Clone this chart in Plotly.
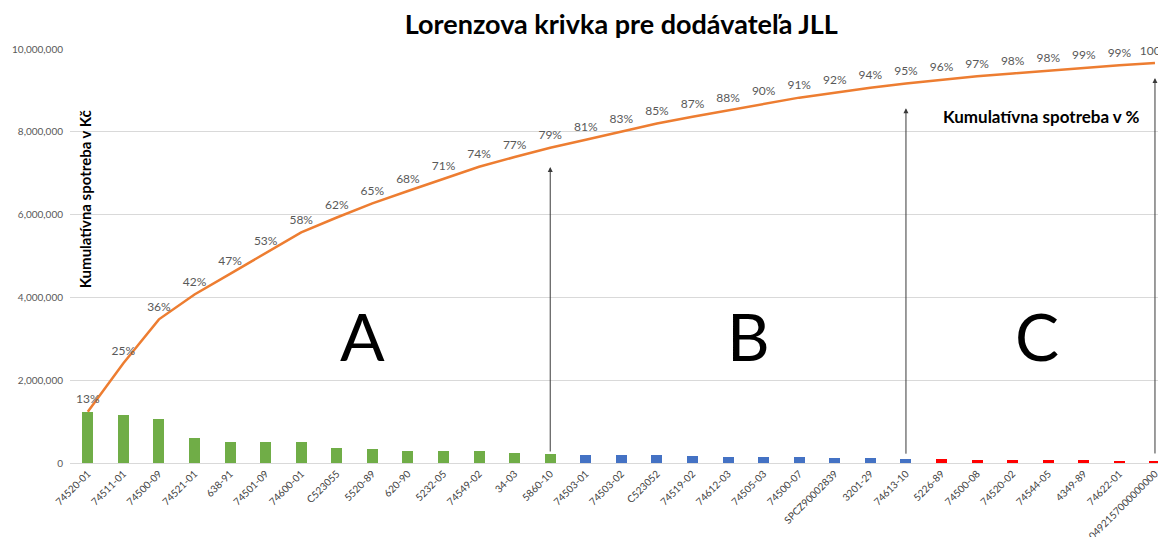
import plotly.graph_objects as go
import numpy as np

categories = ["74520-01", "74511-01", "74500-09", "74521-01", "638-91", "74501-09", "74600-01",
              "C523055", "5520-89", "620-90", "5232-05", "74549-02", "34-03", "5860-10",
              "74503-01", "74503-02", "C523052", "74519-02", "74612-03", "74505-03", "74500-07",
              "SPCZ90002839", "3201-29", "74613-10",
              "5226-89", "74500-08", "74520-02", "74544-05", "4349-89", "74622-01", "0492157000000000"]

values = [1240000, 1170000, 1060000, 600000, 500000, 500000, 500000, 360000, 340000, 300000,
          300000, 285000, 235000, 225000,
          195000, 195000, 195000, 165000, 155000, 155000, 150000, 120000, 120000, 100000,
          95000, 80000, 70000, 70000, 70000, 55000, 55000]

groups = ["A"] * 14 + ["B"] * 10 + ["C"] * 7

pct_labels = ["13%", "25%", "36%", "42%", "47%", "53%", "58%", "62%", "65%", "68%", "71%",
              "74%", "77%", "79%", "81%", "83%", "85%", "87%", "88%", "90%", "91%", "92%",
              "94%", "95%", "96%", "97%", "98%", "98%", "99%", "99%", "100%"]

group_colors = {"A": "#70AD47", "B": "#4472C4", "C": "#FF0000"}
cumulative = np.cumsum(values)

FONT = "Lato"

fig = go.Figure()
fig.add_trace(go.Bar(
    x=categories, y=values, width=0.31,
    marker=dict(color=[group_colors[g] for g in groups], line=dict(width=0)),
    showlegend=False,
))
fig.add_trace(go.Scatter(
    x=categories, y=cumulative, mode="lines+markers+text",
    line=dict(color="#ED7D31", width=2.5),
    marker=dict(size=7, color="rgba(0,0,0,0)"),
    text=pct_labels, textposition="top center",
    textfont=dict(family=FONT, size=12, color="#595959"),
    cliponaxis=False, showlegend=False, hoverinfo="skip",
))

# arrows marking the ABC boundaries (x given as category index)
arrows = [("5860-10", 7150000, 286), ("74613-10", 8570000, 347), ("0492157000000000", 9300000, 377)]
for cat, yv, length in arrows:
    fig.add_annotation(x=categories.index(cat), y=yv, xref="x", yref="y", ax=0, ay=length,
                       showarrow=True, arrowhead=2, arrowsize=1, arrowwidth=1,
                       arrowcolor="#3a3a3a", text="")

for letter, xp in [("A", 0.267), ("B", 0.619), ("C", 0.882)]:
    fig.add_annotation(x=xp, y=0.307, xref="paper", yref="paper", text=letter,
                       xanchor="center", yanchor="middle",
                       showarrow=False, font=dict(family=FONT, size=66, color="black"))

fig.add_annotation(x=0.0137, y=0.637, xref="paper", yref="paper", textangle=-90,
                   xanchor="center", yanchor="middle",
                   text="<b>Kumulatívna spotreba v Kč</b>", showarrow=False,
                   font=dict(family=FONT, size=15, color="black"))
fig.add_annotation(x=0.886, y=0.836, xref="paper", yref="paper",
                   xanchor="center", yanchor="middle",
                   text="<b>Kumulatívna spotreba v %</b>", showarrow=False,
                   font=dict(family=FONT, size=17, color="black"))

# page body adds an 8px offset; margins compensate so the plot area lands at the reference spot
fig.update_layout(
    width=1166, height=537,
    margin=dict(l=62, r=8, t=41, b=82, autoexpand=False),
    paper_bgcolor="white", plot_bgcolor="white",
    title=dict(text="<b>Lorenzova krivka pre dodávateľa JLL</b>", x=0.526, y=0.97,
               xanchor="center", yanchor="middle",
               font=dict(family=FONT, size=27, color="black")),
    bargap=0,
    xaxis=dict(type="category", range=[-0.5, 30.31], tickangle=-45, automargin=False,
               tickfont=dict(family=FONT, size=10, color="#404040"),
               showgrid=False, showline=True, linecolor="#d9d9d9", linewidth=1,
               ticks=""),
    yaxis=dict(range=[0, 10000000], dtick=2000000, tickformat=",", automargin=False,
               tickfont=dict(family=FONT, size=10, color="#595959"),
               ticklabelstandoff=6,
               showgrid=True, gridcolor="#d9d9d9", gridwidth=1, zeroline=False,
               showline=False, ticks=""),
)

fig.write_html("out.html")
